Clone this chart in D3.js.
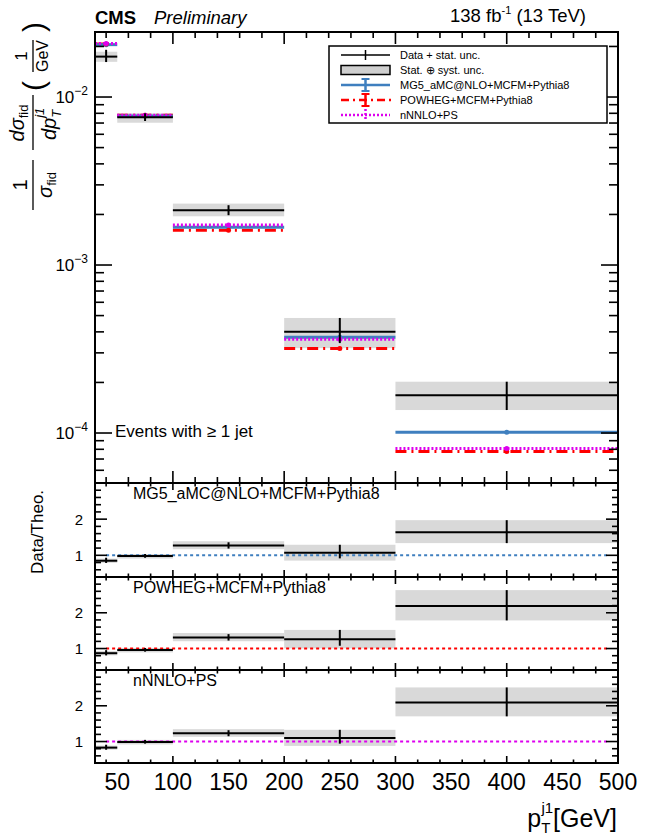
<!DOCTYPE html>
<html><head><meta charset="utf-8">
<script src="https://cdn.jsdelivr.net/npm/d3@7"></script>
<style>body{margin:0;background:#fff} svg{display:block} text{font-family:"Liberation Sans",Arial,Helvetica,sans-serif;fill:#000}</style>
</head><body><svg id="c" width="646" height="836"></svg>
<script>
// ---------------- data ----------------
const binEdges   = [30, 50, 100, 200, 300, 500];
const binCenters = [40, 75, 150, 250, 400];
const dataVal    = [0.0174, 0.00757, 0.00212, 4.01e-4, 1.68e-4];
const dataStatLo = [0.01615, 0.0072, 0.00198, 3.43e-4, 1.37e-4];
const dataStatHi = [0.0191, 0.0080, 0.00227, 4.84e-4, 2.02e-4];
const dataTotLo  = [0.0162, 0.00703, 0.00195, 3.20e-4, 1.37e-4];
const dataTotHi  = [0.0186, 0.0080, 0.00232, 4.84e-4, 2.02e-4];
const mg5Val     = [0.0205, 0.0077, 0.00168, 3.71e-4, 1.01e-4];
const powhegVal  = [0.0207, 0.0078, 0.00161, 3.18e-4, 7.75e-5];
const nnnloVal   = [0.0208, 0.0078, 0.00173, 3.61e-4, 8.1e-5];
const ratioMG5    = [0.85, 0.98, 1.27, 1.07, 1.64];
const ratioPOWHEG = [0.87, 0.96, 1.31, 1.26, 2.19];
const ratioNNNLO  = [0.83, 0.99, 1.23, 1.10, 2.09];
const modelNames  = ["MG5_aMC@NLO+MCFM+Pythia8", "POWHEG+MCFM+Pythia8", "nNNLO+PS"];
const xTickLabels = [50, 100, 150, 200, 250, 300, 350, 400, 450, 500];
const yMainTicks  = [1e-4, 1e-3, 1e-2];
const yMainExp    = [-4, -3, -2];
const ratioTicks  = [1, 2];
const legendLabels = ["Data + stat. unc.", "Stat. \u2295 syst. unc.", "MG5_aMC@NLO+MCFM+Pythia8", "POWHEG+MCFM+Pythia8", "nNNLO+PS"];

// ---------------- layout ----------------
const L = 95, R = 618, T = 32, MB = 483;
const panels = [[483, 577], [577, 670], [670, 763]];
const colBlue = "#3f7fbf", colRed = "#ff0000", colMag = "#dd00ee", colBand = "#d9d9d9";

const svg = d3.select("#c");
const x = d3.scaleLinear().domain([30, 500]).range([L, R]);
const y = d3.scaleLog().domain([5.04e-5, 0.02438]).range([MB, T]);

const xMajor = [100, 200, 300, 400, 500];
const xMinor = d3.range(40, 500, 20).filter(v => v % 100 !== 0);

function xTicks(yPos, dir, maj, min) {
  const g = svg.append("g");
  xMajor.forEach(v => g.append("line").attr("x1", x(v)).attr("x2", x(v)).attr("y1", yPos).attr("y2", yPos + dir * maj).attr("stroke", "#000").attr("stroke-width", 1.6));
  xMinor.forEach(v => g.append("line").attr("x1", x(v)).attr("x2", x(v)).attr("y1", yPos).attr("y2", yPos + dir * min).attr("stroke", "#000").attr("stroke-width", 1.6));
}

// ---------------- main panel ----------------
const gm = svg.append("g");
// bands
binCenters.forEach((c, i) => {
  gm.append("rect").attr("x", x(binEdges[i])).attr("width", x(binEdges[i+1]) - x(binEdges[i]))
    .attr("y", y(dataTotHi[i])).attr("height", y(dataTotLo[i]) - y(dataTotHi[i])).attr("fill", colBand);
});
function hline(g, vals, yS, color, w, dash, i0) {
  vals.forEach((v, i) => {
    g.append("line").attr("x1", x(binEdges[i])).attr("x2", x(binEdges[i+1])).attr("y1", yS(v)).attr("y2", yS(v))
      .attr("stroke", color).attr("stroke-width", w).attr("stroke-dasharray", dash || null);
  });
}
hline(gm, powhegVal, y, colRed, 3, "11,5,2,5");
hline(gm, mg5Val, y, colBlue, 3);
hline(gm, nnnloVal, y, colMag, 3, "2,2");
// model markers
[[mg5Val, colBlue], [powhegVal, colRed], [nnnloVal, colMag]].forEach(([vals, col]) => {
  vals.forEach((v, i) => gm.append("circle").attr("cx", x(binCenters[i])).attr("cy", y(v)).attr("r", 2.5).attr("fill", col));
});
// data
hline(gm, dataVal, y, "#000", 2);
binCenters.forEach((c, i) => {
  gm.append("line").attr("x1", x(c)).attr("x2", x(c)).attr("y1", y(dataStatHi[i])).attr("y2", y(dataStatLo[i])).attr("stroke", "#000").attr("stroke-width", 2);
});

// main frame & ticks
svg.append("rect").attr("x", L).attr("y", T).attr("width", R - L).attr("height", MB - T).attr("fill", "none").attr("stroke", "#000").attr("stroke-width", 2);
xTicks(T, 1, 12, 6);
xTicks(MB, -1, 12, 6);
const yMinor = [];
[-5, -4, -3, -2].forEach(e => d3.range(2, 10).forEach(k => { const v = k * Math.pow(10, e); if (v > 5.04e-5 && v < 0.02438) yMinor.push(v); }));
[L, R].forEach((xp, s) => {
  const dir = s === 0 ? 1 : -1;
  yMainTicks.forEach(v => svg.append("line").attr("x1", xp).attr("x2", xp + dir * 17).attr("y1", y(v)).attr("y2", y(v)).attr("stroke", "#000").attr("stroke-width", 1.6));
  yMinor.forEach(v => svg.append("line").attr("x1", xp).attr("x2", xp + dir * 9).attr("y1", y(v)).attr("y2", y(v)).attr("stroke", "#000").attr("stroke-width", 1.6));
});
yMainTicks.forEach((v, i) => {
  const t = svg.append("text").attr("x", 88).attr("y", y(v) + 6).attr("text-anchor", "end").attr("font-size", 17);
  t.append("tspan").text("10");
  t.append("tspan").attr("dy", -8).attr("font-size", 12).text("\u2212" + (-yMainExp[i]));
});

svg.append("text").attr("x", 115).attr("y", 437).attr("font-size", 17).text("Events with \u2265 1 jet");

// ---------------- ratio panels ----------------
const ratios = [ratioMG5, ratioPOWHEG, ratioNNNLO];
const ratioCols = [colBlue, colRed, colMag];
const rMinor = d3.range(0.4, 3.01, 0.2).map(v => +v.toFixed(1)).filter(v => v !== 1 && v !== 2);
panels.forEach(([top, bot], p) => {
  const yr = d3.scaleLinear().domain([0.4, 3]).range([bot, top]);
  const g = svg.append("g");
  const rv = ratios[p];
  rv.forEach((r, i) => {
    const hi = r * dataTotHi[i] / dataVal[i], lo = r * dataTotLo[i] / dataVal[i];
    g.append("rect").attr("x", x(binEdges[i])).attr("width", x(binEdges[i+1]) - x(binEdges[i]))
      .attr("y", yr(hi)).attr("height", yr(lo) - yr(hi)).attr("fill", colBand);
  });
  g.append("line").attr("x1", x(40)).attr("x2", x(490)).attr("y1", yr(1)).attr("y2", yr(1))
    .attr("stroke", ratioCols[p]).attr("stroke-width", 2).attr("stroke-dasharray", "3,3");
  rv.forEach((r, i) => {
    g.append("line").attr("x1", x(binEdges[i])).attr("x2", x(binEdges[i+1])).attr("y1", yr(r)).attr("y2", yr(r)).attr("stroke", "#000").attr("stroke-width", 2);
    const sh = r * dataStatHi[i] / dataVal[i], sl = r * dataStatLo[i] / dataVal[i];
    g.append("line").attr("x1", x(binCenters[i])).attr("x2", x(binCenters[i])).attr("y1", yr(sh)).attr("y2", yr(sl)).attr("stroke", "#000").attr("stroke-width", 2);
  });
  svg.append("rect").attr("x", L).attr("y", top).attr("width", R - L).attr("height", bot - top).attr("fill", "none").attr("stroke", "#000").attr("stroke-width", 2);
  xTicks(top, 1, 7, 3.5);
  xTicks(bot, -1, 7, 3.5);
  [L, R].forEach((xp, s) => {
    const dir = s === 0 ? 1 : -1;
    ratioTicks.forEach(v => svg.append("line").attr("x1", xp).attr("x2", xp + dir * 12).attr("y1", yr(v)).attr("y2", yr(v)).attr("stroke", "#000").attr("stroke-width", 1.6));
    rMinor.forEach(v => svg.append("line").attr("x1", xp).attr("x2", xp + dir * 6).attr("y1", yr(v)).attr("y2", yr(v)).attr("stroke", "#000").attr("stroke-width", 1.6));
  });
  ratioTicks.forEach(v => svg.append("text").attr("x", 83).attr("y", yr(v) + 5.5).attr("text-anchor", "end").attr("font-size", 15).text(v));
  svg.append("text").attr("x", 133).attr("y", top + 16).attr("font-size", 16).text(modelNames[p]);
});

svg.append("text").attr("transform", "translate(43,532) rotate(-90)").attr("text-anchor", "middle").attr("font-size", 17).text("Data/Theo.");

// x tick labels
xTickLabels.forEach(v => svg.append("text").attr("x", x(v)).attr("y", 790).attr("text-anchor", "middle").attr("font-size", 23).text(v));
// x title
{
  const t = svg.append("text").attr("x", 617).attr("y", 827).attr("text-anchor", "end").attr("font-size", 25);
  t.append("tspan").text("p");
  t.append("tspan").attr("font-size", 15).attr("dy", 6).text("T");
  t.append("tspan").attr("font-size", 15).attr("dx", -9).attr("dy", -20).text("j1");
  t.append("tspan").attr("dy", 14).text("[GeV]");
}

// header
svg.append("text").attr("x", 95).attr("y", 24).attr("font-size", 18.5).attr("font-weight", "bold").text("CMS");
svg.append("text").attr("x", 154).attr("y", 24).attr("font-size", 18.5).attr("font-style", "italic").text("Preliminary");
{
  const t = svg.append("text").attr("x", 586).attr("y", 22).attr("text-anchor", "end").attr("font-size", 18.5);
  t.append("tspan").text("138 fb");
  t.append("tspan").attr("font-size", 11).attr("dy", -8).text("-1");
  t.append("tspan").attr("dy", 8).text(" (13 TeV)");
}

// legend
{
  const g = svg.append("g");
  g.append("rect").attr("x", 329).attr("y", 46).attr("width", 278).attr("height", 77).attr("fill", "#fff").attr("stroke", "#000").attr("stroke-width", 1.5);
  const ys = [55, 70, 85, 100, 115];
  const x0 = 341, x1 = 390, xm = 365.5;
  legendLabels.forEach((s, i) => g.append("text").attr("x", 400).attr("y", ys[i] + 4).attr("font-size", 11).text(s));
  g.append("line").attr("x1", x0).attr("x2", x1).attr("y1", ys[0]).attr("y2", ys[0]).attr("stroke", "#000").attr("stroke-width", 1.5);
  g.append("line").attr("x1", xm).attr("x2", xm).attr("y1", ys[0] - 5).attr("y2", ys[0] + 5).attr("stroke", "#000").attr("stroke-width", 1.5);
  g.append("rect").attr("x", x0).attr("y", ys[1] - 4.5).attr("width", x1 - x0).attr("height", 9).attr("fill", "#cfcfcf").attr("stroke", "#000").attr("stroke-width", 1.5);
  const ebar = (yy, col) => {
    g.append("line").attr("x1", xm).attr("x2", xm).attr("y1", yy - 6).attr("y2", yy + 6).attr("stroke", col).attr("stroke-width", 2.5);
    g.append("line").attr("x1", xm - 4).attr("x2", xm + 4).attr("y1", yy - 6).attr("y2", yy - 6).attr("stroke", col).attr("stroke-width", 2);
    g.append("line").attr("x1", xm - 4).attr("x2", xm + 4).attr("y1", yy + 6).attr("y2", yy + 6).attr("stroke", col).attr("stroke-width", 2);
  };
  g.append("line").attr("x1", x0).attr("x2", x1).attr("y1", ys[2]).attr("y2", ys[2]).attr("stroke", colBlue).attr("stroke-width", 2.5);
  ebar(ys[2], colBlue);
  g.append("line").attr("x1", x0).attr("x2", x1 + 2).attr("y1", ys[3]).attr("y2", ys[3]).attr("stroke", colRed).attr("stroke-width", 2.5).attr("stroke-dasharray", "8,4,2,4");
  ebar(ys[3], colRed);
  g.append("line").attr("x1", x0).attr("x2", x1).attr("y1", ys[4]).attr("y2", ys[4]).attr("stroke", colMag).attr("stroke-width", 2.5).attr("stroke-dasharray", "2,2");
  g.append("line").attr("x1", xm).attr("x2", xm).attr("y1", ys[4] - 6).attr("y2", ys[4] + 6).attr("stroke", colMag).attr("stroke-width", 2.5).attr("stroke-dasharray", "2,2");
}

// y-axis title (rotated)
{
  const g = svg.append("g").attr("transform", "rotate(-90)");
  const fs = 20;
  // 1 / sigma_fid
  g.append("text").attr("x", -185).attr("y", 27).attr("text-anchor", "middle").attr("font-size", fs).text("1");
  g.append("line").attr("x1", -210).attr("x2", -160).attr("y1", 33).attr("y2", 33).attr("stroke", "#000").attr("stroke-width", 1.3);
  { const t = g.append("text").attr("x", -185).attr("y", 52).attr("text-anchor", "middle").attr("font-size", fs);
    t.append("tspan").attr("font-style", "italic").text("\u03c3");
    t.append("tspan").attr("font-size", 13).attr("dy", 4).text("fid"); }
  // d sigma / d p
  { const t = g.append("text").attr("x", -123).attr("y", 24).attr("text-anchor", "middle").attr("font-size", fs);
    t.append("tspan").attr("font-style", "italic").text("d\u03c3");
    t.append("tspan").attr("font-size", 13).attr("dy", 4).text("fid"); }
  g.append("line").attr("x1", -150).attr("x2", -95).attr("y1", 33).attr("y2", 33).attr("stroke", "#000").attr("stroke-width", 1.3);
  { const t = g.append("text").attr("x", -140).attr("y", 56).attr("font-size", fs).attr("font-style", "italic");
    t.append("tspan").text("dp");
    t.append("tspan").attr("font-size", 13).attr("dy", 5).text("T");
    t.append("tspan").attr("font-size", 13).attr("dx", -8).attr("dy", -17).text("j1"); }
  // ( 1 / GeV )
  g.append("text").attr("x", -86).attr("y", 44).attr("text-anchor", "middle").attr("font-size", 30).attr("font-weight", "300").text("(");
  g.append("text").attr("x", -56).attr("y", 27).attr("text-anchor", "middle").attr("font-size", 17).text("1");
  g.append("line").attr("x1", -72).attr("x2", -40).attr("y1", 33).attr("y2", 33).attr("stroke", "#000").attr("stroke-width", 1.3);
  g.append("text").attr("x", -56).attr("y", 48).attr("text-anchor", "middle").attr("font-size", 16).text("GeV");
  g.append("text").attr("x", -27).attr("y", 44).attr("text-anchor", "middle").attr("font-size", 30).text(")");
}
</script></body></html>
